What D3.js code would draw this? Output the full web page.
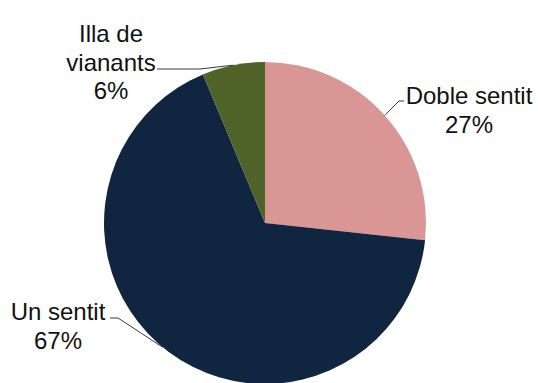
<!DOCTYPE html>
<html>
<head>
<meta charset="utf-8">
<script src="https://cdn.jsdelivr.net/npm/d3@7"></script>
<style>
  html, body { margin: 0; padding: 0; background: #ffffff; }
  svg { display: block; }
  text { font-family: "Liberation Sans", Arial, sans-serif; fill: #111111; }
</style>
</head>
<body>
<svg id="chart" width="538" height="383"></svg>
<script>
const categories = ["Doble sentit", "Un sentit", "Illa de vianants"];
const values = [26.7, 67.0, 6.3];
const labelLines = [["Doble sentit", "27%"], ["Un sentit", "67%"], ["Illa de", "vianants", "6%"]];
const colors = ["#d99694", "#10253f", "#4f6228"];

// layout (label anchor: text centre x, first baseline y, leader start x,y and elbow x, edge angle offset)
const layout = [
  { tx: 469, ty: 104, lx: 404, ly: 101, ex: 399, da: 0 },
  { tx: 58,  ty: 320, lx: 110, ly: 318, ex: 118, da: 0.05 },
  { tx: 111, ty: 42,  lx: 157, ly: 69, ex: 200, da: 0 }
];

const W = 538, H = 383;
const cx = 265, cy = 223, R = 161;
const svg = d3.select("#chart");
const g = svg.append("g").attr("transform", `translate(${cx},${cy})`);

const pie = d3.pie().sort(null).value(d => d.v).startAngle(0).endAngle(2 * Math.PI);
const data = pie(categories.map((c, i) => ({ c, v: values[i], i })));
const arc = d3.arc().innerRadius(0).outerRadius(R);

g.selectAll("path.slice").data(data).enter().append("path")
  .attr("class", "slice")
  .attr("d", arc)
  .attr("fill", d => colors[d.data.i]);

// leader lines and labels
const lineH = 28.5;
data.forEach(d => {
  const i = d.data.i;
  const L = layout[i];
  const mid = (d.startAngle + d.endAngle) / 2 + L.da;
  const px = cx + R * Math.sin(mid);
  const py = cy - R * Math.cos(mid);
  svg.append("polyline")
    .attr("points", [[L.lx, L.ly], [L.ex, L.ly], [px, py]].map(p => p.join(",")).join(" "))
    .attr("fill", "none")
    .attr("stroke", "#3a3a3a")
    .attr("stroke-width", 1);
  const t = svg.append("text")
    .attr("text-anchor", "middle")
    .attr("font-size", 24);
  labelLines[i].forEach((s, k) => {
    t.append("tspan").attr("x", L.tx).attr("y", L.ty + k * lineH).text(s);
  });
});
</script>
</body>
</html>
